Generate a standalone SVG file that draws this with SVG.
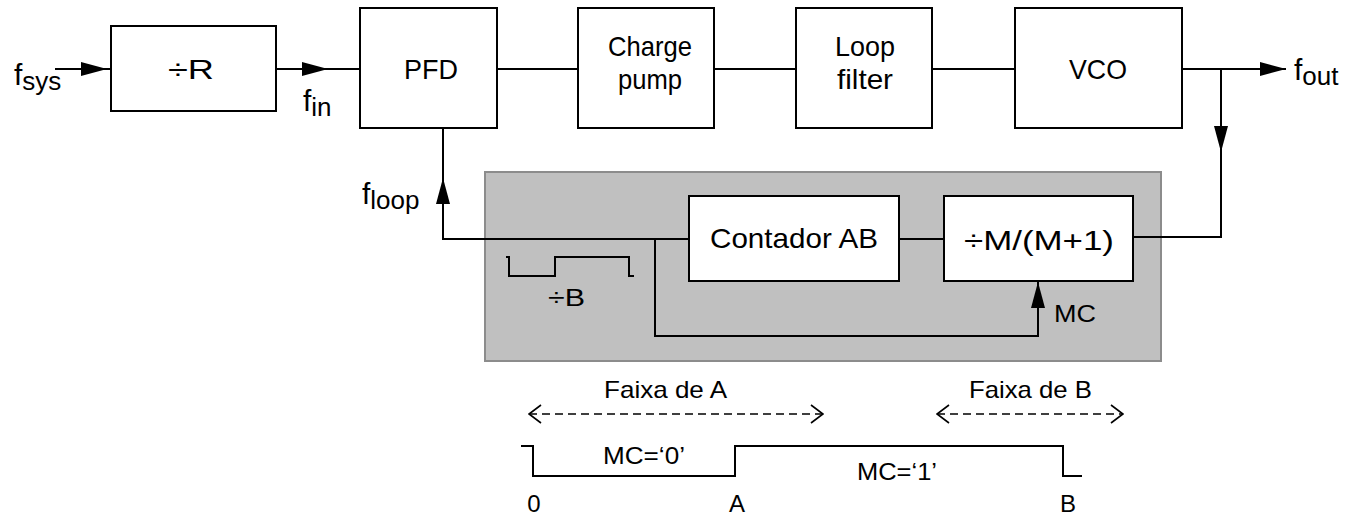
<svg xmlns="http://www.w3.org/2000/svg" width="1349" height="518" viewBox="0 0 1349 518">
<style>
.box{fill:#fff;stroke:#000;stroke-width:2}
.ln{fill:none;stroke:#000;stroke-width:2}
.dash{fill:none;stroke:#000;stroke-width:1.6;stroke-dasharray:8,5}
.t{font-family:"Liberation Sans",Arial,sans-serif;fill:#000}
.lb{font-size:28px;text-anchor:middle}
.sm{font-size:24px}
</style>
<defs>
<marker id="ah" viewBox="0 0 26 14" refX="26" refY="7" markerWidth="26" markerHeight="14" markerUnits="userSpaceOnUse" orient="auto">
<path d="M0 0 L26 7 L0 14 Z" fill="#000"/>
</marker>
<marker id="oa" viewBox="0 0 14 20" refX="13" refY="10" markerWidth="14" markerHeight="20" markerUnits="userSpaceOnUse" orient="auto-start-reverse">
<path d="M1 1 L13 10 L1 19" fill="none" stroke="#000" stroke-width="1.6"/>
</marker>
</defs>
<rect id="gray" x="485" y="172" width="676" height="189" fill="#c0c0c0" stroke="#8c8c8c" stroke-width="2"/>
<g id="connectors">
<line class="ln" x1="55" y1="69" x2="107" y2="69" marker-end="url(#ah)"/>
<line class="ln" x1="102" y1="69" x2="111" y2="69"/>
<line class="ln" x1="276" y1="69" x2="328" y2="69" marker-end="url(#ah)"/>
<line class="ln" x1="322" y1="69" x2="360" y2="69"/>
<line class="ln" x1="497" y1="69" x2="578" y2="69"/>
<line class="ln" x1="714" y1="69" x2="796" y2="69"/>
<line class="ln" x1="932" y1="69" x2="1015" y2="69"/>
<line class="ln" x1="1182" y1="69" x2="1286" y2="69" marker-end="url(#ah)"/>
<line class="ln" x1="1221" y1="69" x2="1221" y2="152" marker-end="url(#ah)"/>
<polyline class="ln" points="1221,146 1221,237 1134,237"/>
<line class="ln" x1="899" y1="239" x2="944" y2="239"/>
<polyline class="ln" points="689,239 443,239 443,180"/>
<line class="ln" x1="443" y1="205" x2="443" y2="178" marker-end="url(#ah)"/>
<line class="ln" x1="443" y1="185" x2="443" y2="128"/>
<polyline class="ln" points="655,239 655,336 1038,336 1038,300"/>
<line class="ln" x1="1038" y1="310" x2="1038" y2="282" marker-end="url(#ah)"/>
<path class="ln" d="M506 257 H509 V276 H555 V257 H629 V276 H634"/>
<line class="dash" x1="529" y1="414" x2="823" y2="414" marker-start="url(#oa)" marker-end="url(#oa)"/>
<line class="dash" x1="937" y1="414" x2="1123" y2="414" marker-start="url(#oa)" marker-end="url(#oa)"/>
<path class="ln" d="M521 446 H533 V476 H735 V446 H1063 V476 H1082"/>
</g>
<g id="divR"><rect class="box" x="111" y="26" width="165" height="85"/><text class="t lb" x="191" y="79" textLength="46" lengthAdjust="spacingAndGlyphs">÷R</text></g>
<g id="pfd"><rect class="box" x="360" y="8" width="137" height="120"/><text class="t lb" x="431" y="79" textLength="54" lengthAdjust="spacingAndGlyphs">PFD</text></g>
<g id="cp"><rect class="box" x="578" y="8" width="136" height="120"/><text class="t lb" x="650" y="56" textLength="84" lengthAdjust="spacingAndGlyphs">Charge</text><text class="t lb" x="650" y="89" textLength="64" lengthAdjust="spacingAndGlyphs">pump</text></g>
<g id="lf"><rect class="box" x="796" y="8" width="136" height="120"/><text class="t lb" x="865" y="56" textLength="60" lengthAdjust="spacingAndGlyphs">Loop</text><text class="t lb" x="865" y="89" textLength="56" lengthAdjust="spacingAndGlyphs">filter</text></g>
<g id="vco"><rect class="box" x="1015" y="8" width="167" height="120"/><text class="t lb" x="1098" y="79" textLength="58" lengthAdjust="spacingAndGlyphs">VCO</text></g>
<g id="cab"><rect class="box" x="689" y="196" width="210" height="85"/><text class="t lb" x="794" y="248" textLength="168" lengthAdjust="spacingAndGlyphs">Contador AB</text></g>
<g id="divM"><rect class="box" x="944" y="196" width="189" height="85"/><text class="t lb" x="1039" y="250" textLength="150" lengthAdjust="spacingAndGlyphs">÷M/(M+1)</text></g>
<g id="labels">
<text class="t" x="14" y="85" font-size="30">f<tspan font-size="26" dy="5">sys</tspan></text>
<text class="t" x="303" y="111" font-size="30">f<tspan font-size="26" dy="5">in</tspan></text>
<text class="t" x="362" y="204" font-size="30">f<tspan font-size="26" dy="5">loop</tspan></text>
<text class="t" x="1294" y="80" font-size="30">f<tspan font-size="26" dy="5">out</tspan></text>
<text class="t sm" x="1054" y="322" textLength="42" lengthAdjust="spacingAndGlyphs">MC</text>
<text class="t sm" x="548" y="306" textLength="37" lengthAdjust="spacingAndGlyphs">÷B</text>
<text class="t sm" x="604" y="398" textLength="123" lengthAdjust="spacingAndGlyphs">Faixa de A</text>
<text class="t sm" x="969" y="398" textLength="123" lengthAdjust="spacingAndGlyphs">Faixa de B</text>
<text class="t sm" x="603" y="464" textLength="82" lengthAdjust="spacingAndGlyphs">MC=‘0’</text>
<text class="t sm" x="857" y="480" textLength="80" lengthAdjust="spacingAndGlyphs">MC=‘1’</text>
<text class="t sm" x="534" y="512" text-anchor="middle">0</text>
<text class="t sm" x="737" y="512" text-anchor="middle">A</text>
<text class="t sm" x="1068" y="512" text-anchor="middle">B</text>
</g>
</svg>
